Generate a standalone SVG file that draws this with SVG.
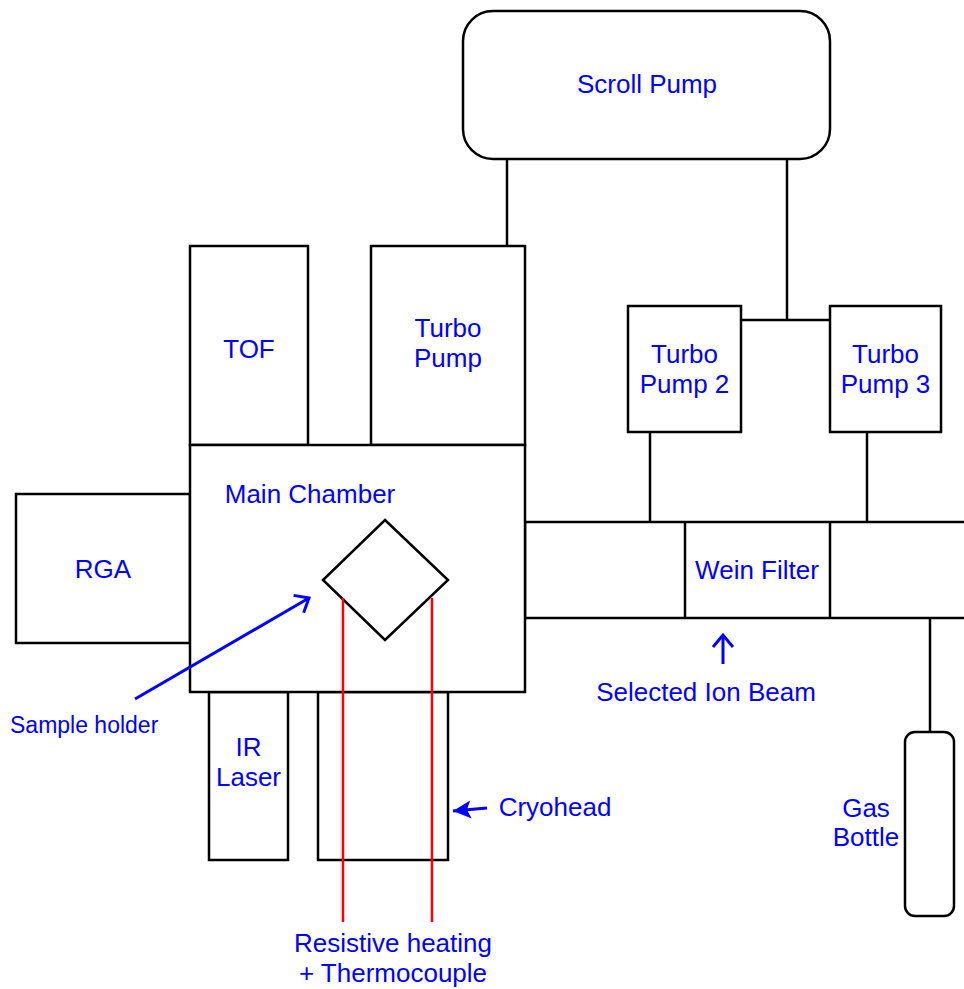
<svg xmlns="http://www.w3.org/2000/svg" width="964" height="989" viewBox="0 0 964 989">
<style>
.b{fill:#fff;stroke:#000;stroke-width:2.5}
.l{fill:none;stroke:#000;stroke-width:2.5}
.r{fill:none;stroke:#f00;stroke-width:2.5}
.a{fill:none;stroke:#00f;stroke-width:3}
text{font-family:"Liberation Sans",Arial,sans-serif;font-size:26px;fill:#0000ff;text-anchor:middle}
.s{font-size:23px;text-anchor:start}
</style>
<defs>
<marker id="open" markerWidth="20" markerHeight="24" refX="14" refY="12" orient="auto" markerUnits="userSpaceOnUse">
<path d="M2,2 L14,12 L2,22" fill="none" stroke="#00f" stroke-width="3"/>
</marker>
<marker id="fill" markerWidth="20" markerHeight="20" refX="18" refY="10" orient="auto" markerUnits="userSpaceOnUse">
<path d="M0,1 L18,10 L0,19 L4,10 Z" fill="#00f"/>
</marker>
</defs>
<g id="connectors">
<line class="l" x1="507" y1="159" x2="507" y2="246"/>
<line class="l" x1="787" y1="159" x2="787" y2="320"/>
<line class="l" x1="741" y1="320" x2="830" y2="320"/>
<line class="l" x1="650" y1="432" x2="650" y2="522"/>
<line class="l" x1="867" y1="432" x2="867" y2="522"/>
<line class="l" x1="930" y1="618" x2="930" y2="732"/>
</g>
<g id="scroll-pump"><rect class="b" x="463" y="11" width="367" height="148" rx="30"/><text x="647" y="93">Scroll Pump</text></g>
<g id="tof"><rect class="b" x="190" y="246" width="118" height="199"/><text x="249" y="358">TOF</text></g>
<g id="turbo-pump"><rect class="b" x="371" y="246" width="154" height="199"/><text x="448" y="337">Turbo</text><text x="448" y="367">Pump</text></g>
<g id="turbo-pump-2"><rect class="b" x="628" y="306" width="113" height="126"/><text x="684.5" y="363">Turbo</text><text x="684.5" y="393">Pump 2</text></g>
<g id="turbo-pump-3"><rect class="b" x="830" y="306" width="111" height="126"/><text x="885.5" y="363">Turbo</text><text x="885.5" y="393">Pump 3</text></g>
<g id="tube"><rect class="b" x="525" y="522" width="445" height="96"/><line class="l" x1="685" y1="522" x2="685" y2="618"/><line class="l" x1="830" y1="522" x2="830" y2="618"/></g>
<g id="wein-filter"><text x="757" y="579">Wein Filter</text></g>
<g id="rga"><rect class="b" x="16" y="494" width="174" height="149"/><text x="103" y="578">RGA</text></g>
<g id="ir-laser"><rect class="b" x="209" y="692" width="79" height="168"/><text x="248.5" y="756">IR</text><text x="248.5" y="786">Laser</text></g>
<g id="cryohead"><rect class="b" x="318" y="692" width="130" height="168"/></g>
<g id="main-chamber"><rect class="b" x="190" y="445" width="335" height="247"/><text x="310" y="503">Main Chamber</text></g>
<g id="sample-holder"><path class="b" d="M385,520 L448,580 L385,640 L323,580 Z"/></g>
<g id="wires"><line class="r" x1="343" y1="598" x2="343" y2="922"/><line class="r" x1="432" y1="598" x2="432" y2="922"/></g>
<g id="gas-bottle"><rect class="b" x="905" y="732" width="49" height="184" rx="10"/><text x="866" y="817">Gas</text><text x="866" y="846">Bottle</text></g>
<g id="labels">
<line class="a" x1="135" y1="699" x2="309" y2="598" marker-end="url(#open)"/>
<text class="s" x="10" y="733">Sample holder</text>
<line class="a" x1="723" y1="664" x2="723" y2="635" marker-end="url(#open)"/>
<text x="706" y="701">Selected Ion Beam</text>
<line class="a" x1="487" y1="808" x2="453" y2="811" marker-end="url(#fill)"/>
<text x="555" y="816">Cryohead</text>
<text x="393" y="952">Resistive heating</text>
<text x="393" y="982">+ Thermocouple</text>
</g>
</svg>
